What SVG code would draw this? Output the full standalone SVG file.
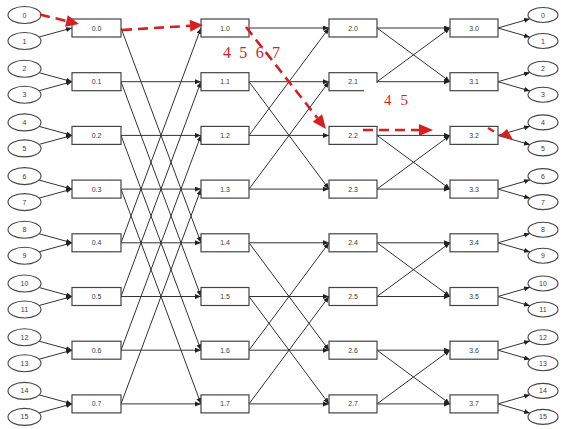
<svg xmlns="http://www.w3.org/2000/svg" width="562" height="429" viewBox="0 0 562 429">
<style>
.bx{fill:#fff;stroke:#444;stroke-width:1.2}
.ci{fill:#fff;stroke:#444;stroke-width:1.1}
.t{font-family:"Liberation Sans",Arial,sans-serif;font-size:7px;fill:#3a3a3a;text-anchor:middle;dominant-baseline:central}
.e{fill:none;stroke:#333;stroke-width:1;marker-end:url(#ah)}
.r{fill:none;stroke:#d81e1e;stroke-width:2.6;stroke-dasharray:10 6}
.rh{fill:#d81e1e;stroke:none}
.rl{font-family:"Liberation Serif","Times New Roman",serif;fill:#d81e1e}
</style>
<defs>
<marker id="ah" markerUnits="userSpaceOnUse" markerWidth="7" markerHeight="6" refX="6" refY="2.5" orient="auto"><path d="M0,0 L6,2.5 L0,5 z" fill="#222"/></marker>
</defs>
<g id="connectors">
<path class="e" d="M39.1,37 L72,28"/>
<path class="e" d="M39.1,72.7 L72,81.7"/><path class="e" d="M39.1,90.7 L72,81.7"/>
<path class="e" d="M39.1,126.4 L72,135.4"/><path class="e" d="M39.1,144.4 L72,135.4"/>
<path class="e" d="M39.1,180.1 L72,189.1"/><path class="e" d="M39.1,198.1 L72,189.1"/>
<path class="e" d="M39.1,233.8 L72,242.8"/><path class="e" d="M39.1,251.8 L72,242.8"/>
<path class="e" d="M39.1,287.5 L72,296.5"/><path class="e" d="M39.1,305.5 L72,296.5"/>
<path class="e" d="M39.1,341.2 L72,350.2"/><path class="e" d="M39.1,359.2 L72,350.2"/>
<path class="e" d="M39.1,394.9 L72,403.9"/><path class="e" d="M39.1,412.9 L72,403.9"/>
<path class="e" d="M121,28 L201,242.8"/>
<path class="e" d="M121,81.7 L201,81.7"/><path class="e" d="M121,81.7 L201,296.5"/>
<path class="e" d="M121,135.4 L201,135.4"/><path class="e" d="M121,135.4 L201,350.2"/>
<path class="e" d="M121,189.1 L201,189.1"/><path class="e" d="M121,189.1 L201,403.9"/>
<path class="e" d="M121,242.8 L201,242.8"/><path class="e" d="M121,242.8 L201,28"/>
<path class="e" d="M121,296.5 L201,296.5"/><path class="e" d="M121,296.5 L201,81.7"/>
<path class="e" d="M121,350.2 L201,350.2"/><path class="e" d="M121,350.2 L201,135.4"/>
<path class="e" d="M121,403.9 L201,403.9"/><path class="e" d="M121,403.9 L201,189.1"/>
<path class="e" d="M249,28 L329,28"/>
<path class="e" d="M249,81.7 L329,81.7"/><path class="e" d="M249,81.7 L329,189.1"/>
<path class="e" d="M249,135.4 L329,135.4"/><path class="e" d="M249,135.4 L329,28"/>
<path class="e" d="M249,189.1 L329,189.1"/><path class="e" d="M249,189.1 L329,81.7"/>
<path class="e" d="M249,242.8 L329,242.8"/><path class="e" d="M249,242.8 L329,350.2"/>
<path class="e" d="M249,296.5 L329,296.5"/><path class="e" d="M249,296.5 L329,403.9"/>
<path class="e" d="M249,350.2 L329,350.2"/><path class="e" d="M249,350.2 L329,242.8"/>
<path class="e" d="M249,403.9 L329,403.9"/><path class="e" d="M249,403.9 L329,296.5"/>
<path class="e" d="M377,28 L450,28"/><path class="e" d="M377,28 L450,81.7"/>
<path class="e" d="M377,81.7 L450,81.7"/><path class="e" d="M377,81.7 L450,28"/>
<path class="e" d="M377,135.4 L450,135.4"/><path class="e" d="M377,135.4 L450,189.1"/>
<path class="e" d="M377,189.1 L450,189.1"/><path class="e" d="M377,189.1 L450,135.4"/>
<path class="e" d="M377,242.8 L450,242.8"/><path class="e" d="M377,242.8 L450,296.5"/>
<path class="e" d="M377,296.5 L450,296.5"/><path class="e" d="M377,296.5 L450,242.8"/>
<path class="e" d="M377,350.2 L450,350.2"/><path class="e" d="M377,350.2 L450,403.9"/>
<path class="e" d="M377,403.9 L450,403.9"/><path class="e" d="M377,403.9 L450,350.2"/>
<path class="e" d="M498,28 L530,18.75"/><path class="e" d="M498,28 L530,37.25"/>
<path class="e" d="M498,81.7 L530,72.45"/><path class="e" d="M498,81.7 L530,90.95"/>
<path class="e" d="M498,135.4 L530,126.15"/><path class="e" d="M498,135.4 L530,144.65"/>
<path class="e" d="M498,189.1 L530,179.85"/><path class="e" d="M498,189.1 L530,198.35"/>
<path class="e" d="M498,242.8 L530,233.55"/><path class="e" d="M498,242.8 L530,252.05"/>
<path class="e" d="M498,296.5 L530,287.25"/><path class="e" d="M498,296.5 L530,305.75"/>
<path class="e" d="M498,350.2 L530,340.95"/><path class="e" d="M498,350.2 L530,359.45"/>
<path class="e" d="M498,403.9 L530,394.65"/><path class="e" d="M498,403.9 L530,413.15"/>
</g>
<g id="in0"><ellipse class="ci" cx="24.5" cy="15" rx="16.5" ry="8.5"/><text class="t" x="24.5" y="15">0</text></g>
<g id="in1"><ellipse class="ci" cx="24.5" cy="41" rx="16.5" ry="8.5"/><text class="t" x="24.5" y="41">1</text></g>
<g id="in2"><ellipse class="ci" cx="24.5" cy="68.7" rx="16.5" ry="8.5"/><text class="t" x="24.5" y="68.7">2</text></g>
<g id="in3"><ellipse class="ci" cx="24.5" cy="94.7" rx="16.5" ry="8.5"/><text class="t" x="24.5" y="94.7">3</text></g>
<g id="in4"><ellipse class="ci" cx="24.5" cy="122.4" rx="16.5" ry="8.5"/><text class="t" x="24.5" y="122.4">4</text></g>
<g id="in5"><ellipse class="ci" cx="24.5" cy="148.4" rx="16.5" ry="8.5"/><text class="t" x="24.5" y="148.4">5</text></g>
<g id="in6"><ellipse class="ci" cx="24.5" cy="176.1" rx="16.5" ry="8.5"/><text class="t" x="24.5" y="176.1">6</text></g>
<g id="in7"><ellipse class="ci" cx="24.5" cy="202.1" rx="16.5" ry="8.5"/><text class="t" x="24.5" y="202.1">7</text></g>
<g id="in8"><ellipse class="ci" cx="24.5" cy="229.8" rx="16.5" ry="8.5"/><text class="t" x="24.5" y="229.8">8</text></g>
<g id="in9"><ellipse class="ci" cx="24.5" cy="255.8" rx="16.5" ry="8.5"/><text class="t" x="24.5" y="255.8">9</text></g>
<g id="in10"><ellipse class="ci" cx="24.5" cy="283.5" rx="16.5" ry="8.5"/><text class="t" x="24.5" y="283.5">10</text></g>
<g id="in11"><ellipse class="ci" cx="24.5" cy="309.5" rx="16.5" ry="8.5"/><text class="t" x="24.5" y="309.5">11</text></g>
<g id="in12"><ellipse class="ci" cx="24.5" cy="337.2" rx="16.5" ry="8.5"/><text class="t" x="24.5" y="337.2">12</text></g>
<g id="in13"><ellipse class="ci" cx="24.5" cy="363.2" rx="16.5" ry="8.5"/><text class="t" x="24.5" y="363.2">13</text></g>
<g id="in14"><ellipse class="ci" cx="24.5" cy="390.9" rx="16.5" ry="8.5"/><text class="t" x="24.5" y="390.9">14</text></g>
<g id="in15"><ellipse class="ci" cx="24.5" cy="416.9" rx="16.5" ry="8.5"/><text class="t" x="24.5" y="416.9">15</text></g>
<g id="s0_0"><rect class="bx" x="72" y="19" width="49" height="18"/><text class="t" x="96.5" y="28">0.0</text></g>
<g id="s0_1"><rect class="bx" x="72" y="72.7" width="49" height="18"/><text class="t" x="96.5" y="81.7">0.1</text></g>
<g id="s0_2"><rect class="bx" x="72" y="126.4" width="49" height="18"/><text class="t" x="96.5" y="135.4">0.2</text></g>
<g id="s0_3"><rect class="bx" x="72" y="180.1" width="49" height="18"/><text class="t" x="96.5" y="189.1">0.3</text></g>
<g id="s0_4"><rect class="bx" x="72" y="233.8" width="49" height="18"/><text class="t" x="96.5" y="242.8">0.4</text></g>
<g id="s0_5"><rect class="bx" x="72" y="287.5" width="49" height="18"/><text class="t" x="96.5" y="296.5">0.5</text></g>
<g id="s0_6"><rect class="bx" x="72" y="341.2" width="49" height="18"/><text class="t" x="96.5" y="350.2">0.6</text></g>
<g id="s0_7"><rect class="bx" x="72" y="394.9" width="49" height="18"/><text class="t" x="96.5" y="403.9">0.7</text></g>
<g id="s1_0"><rect class="bx" x="201" y="19" width="48" height="18"/><text class="t" x="225" y="28">1.0</text></g>
<g id="s1_1"><rect class="bx" x="201" y="72.7" width="48" height="18"/><text class="t" x="225" y="81.7">1.1</text></g>
<g id="s1_2"><rect class="bx" x="201" y="126.4" width="48" height="18"/><text class="t" x="225" y="135.4">1.2</text></g>
<g id="s1_3"><rect class="bx" x="201" y="180.1" width="48" height="18"/><text class="t" x="225" y="189.1">1.3</text></g>
<g id="s1_4"><rect class="bx" x="201" y="233.8" width="48" height="18"/><text class="t" x="225" y="242.8">1.4</text></g>
<g id="s1_5"><rect class="bx" x="201" y="287.5" width="48" height="18"/><text class="t" x="225" y="296.5">1.5</text></g>
<g id="s1_6"><rect class="bx" x="201" y="341.2" width="48" height="18"/><text class="t" x="225" y="350.2">1.6</text></g>
<g id="s1_7"><rect class="bx" x="201" y="394.9" width="48" height="18"/><text class="t" x="225" y="403.9">1.7</text></g>
<g id="s2_0"><rect class="bx" x="329" y="19" width="48" height="18"/><text class="t" x="353" y="28">2.0</text></g>
<g id="s2_1"><rect class="bx" x="329" y="72.7" width="48" height="18"/><text class="t" x="353" y="81.7">2.1</text></g>
<g id="s2_2"><rect class="bx" x="329" y="126.4" width="48" height="18"/><text class="t" x="353" y="135.4">2.2</text></g>
<g id="s2_3"><rect class="bx" x="329" y="180.1" width="48" height="18"/><text class="t" x="353" y="189.1">2.3</text></g>
<g id="s2_4"><rect class="bx" x="329" y="233.8" width="48" height="18"/><text class="t" x="353" y="242.8">2.4</text></g>
<g id="s2_5"><rect class="bx" x="329" y="287.5" width="48" height="18"/><text class="t" x="353" y="296.5">2.5</text></g>
<g id="s2_6"><rect class="bx" x="329" y="341.2" width="48" height="18"/><text class="t" x="353" y="350.2">2.6</text></g>
<g id="s2_7"><rect class="bx" x="329" y="394.9" width="48" height="18"/><text class="t" x="353" y="403.9">2.7</text></g>
<g id="s3_0"><rect class="bx" x="450" y="19" width="48" height="18"/><text class="t" x="474" y="28">3.0</text></g>
<g id="s3_1"><rect class="bx" x="450" y="72.7" width="48" height="18"/><text class="t" x="474" y="81.7">3.1</text></g>
<g id="s3_2"><rect class="bx" x="450" y="126.4" width="48" height="18"/><text class="t" x="474" y="135.4">3.2</text></g>
<g id="s3_3"><rect class="bx" x="450" y="180.1" width="48" height="18"/><text class="t" x="474" y="189.1">3.3</text></g>
<g id="s3_4"><rect class="bx" x="450" y="233.8" width="48" height="18"/><text class="t" x="474" y="242.8">3.4</text></g>
<g id="s3_5"><rect class="bx" x="450" y="287.5" width="48" height="18"/><text class="t" x="474" y="296.5">3.5</text></g>
<g id="s3_6"><rect class="bx" x="450" y="341.2" width="48" height="18"/><text class="t" x="474" y="350.2">3.6</text></g>
<g id="s3_7"><rect class="bx" x="450" y="394.9" width="48" height="18"/><text class="t" x="474" y="403.9">3.7</text></g>
<g id="out0"><ellipse class="ci" cx="543" cy="15" rx="15" ry="7.5"/><text class="t" x="543" y="15">0</text></g>
<g id="out1"><ellipse class="ci" cx="543" cy="41" rx="15" ry="7.5"/><text class="t" x="543" y="41">1</text></g>
<g id="out2"><ellipse class="ci" cx="543" cy="68.7" rx="15" ry="7.5"/><text class="t" x="543" y="68.7">2</text></g>
<g id="out3"><ellipse class="ci" cx="543" cy="94.7" rx="15" ry="7.5"/><text class="t" x="543" y="94.7">3</text></g>
<g id="out4"><ellipse class="ci" cx="543" cy="122.4" rx="15" ry="7.5"/><text class="t" x="543" y="122.4">4</text></g>
<g id="out5"><ellipse class="ci" cx="543" cy="148.4" rx="15" ry="7.5"/><text class="t" x="543" y="148.4">5</text></g>
<g id="out6"><ellipse class="ci" cx="543" cy="176.1" rx="15" ry="7.5"/><text class="t" x="543" y="176.1">6</text></g>
<g id="out7"><ellipse class="ci" cx="543" cy="202.1" rx="15" ry="7.5"/><text class="t" x="543" y="202.1">7</text></g>
<g id="out8"><ellipse class="ci" cx="543" cy="229.8" rx="15" ry="7.5"/><text class="t" x="543" y="229.8">8</text></g>
<g id="out9"><ellipse class="ci" cx="543" cy="255.8" rx="15" ry="7.5"/><text class="t" x="543" y="255.8">9</text></g>
<g id="out10"><ellipse class="ci" cx="543" cy="283.5" rx="15" ry="7.5"/><text class="t" x="543" y="283.5">10</text></g>
<g id="out11"><ellipse class="ci" cx="543" cy="309.5" rx="15" ry="7.5"/><text class="t" x="543" y="309.5">11</text></g>
<g id="out12"><ellipse class="ci" cx="543" cy="337.2" rx="15" ry="7.5"/><text class="t" x="543" y="337.2">12</text></g>
<g id="out13"><ellipse class="ci" cx="543" cy="363.2" rx="15" ry="7.5"/><text class="t" x="543" y="363.2">13</text></g>
<g id="out14"><ellipse class="ci" cx="543" cy="390.9" rx="15" ry="7.5"/><text class="t" x="543" y="390.9">14</text></g>
<g id="out15"><ellipse class="ci" cx="543" cy="416.9" rx="15" ry="7.5"/><text class="t" x="543" y="416.9">15</text></g>
<g id="label45"><rect x="364" y="83" width="58" height="26" fill="#fff"/><text class="rl" x="384" y="105" font-size="15" textLength="24" lengthAdjust="spacing">4 5</text></g>
<g id="label4567"><text class="rl" x="223" y="58" font-size="16" textLength="57" lengthAdjust="spacing">4 5 6 7</text></g>
<g id="path-highlight">
<path class="r" d="M40,14.5 L66.4,21" stroke-dasharray="15 12"/>
<polygon class="rh" points="79,24 65,26.8 67.8,15.2"/>
<path class="r" d="M122,30 L190,25.8"/>
<polygon class="rh" points="203,25 190.4,31.8 189.6,19.8"/>
<path class="r" d="M246,27 L317.4,118"/>
<polygon class="rh" points="326,129 312.7,121.7 322.1,114.3"/>
<path class="r" d="M363,130 L419,130" stroke-dasharray="10 7"/>
<polygon class="rh" points="433,130 419,124 419,136"/>
<path class="r" d="M488,128 L494,131.5" stroke-dasharray="none"/>
<polygon class="rh" points="499,136 507,129 513,140"/>
</g>
</svg>
